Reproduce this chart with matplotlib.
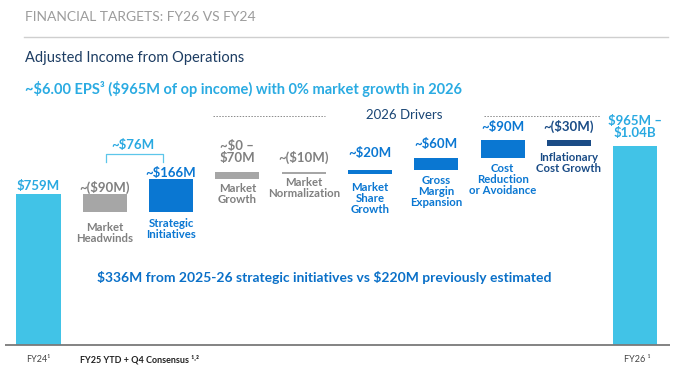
import numpy as np
import matplotlib
matplotlib.use("Agg")
import matplotlib.pyplot as plt

plt.rcParams['font.family'] = ['Lato', 'DejaVu Sans']
plt.rcParams['text.parse_math'] = False

# data ($M)
start_value = 759
steps = [-90, 166, 35, -10, 20, 60, 90, -30]   # market growth drawn at mid of ~$0-70M
step_names = ['Market\nHeadwinds', 'Strategic\nInitiatives', 'Market\nGrowth',
              'Market\nNormalization', 'Market\nShare\nGrowth', 'Gross\nMargin\nExpansion',
              'Cost\nReduction\nor Avoidance', 'Inflationary\nCost Growth']
step_labels = ['~($90M)', '~$166M', '~$0 –\n$70M', '~($10M)', '~$20M', '~$60M',
               '~$90M', '~($30M)']
start_label = '$759M'
end_label = '$965M –\n$1.04B'

LIGHT = '#41C3E7'
GRAY = '#A6A6A6'
BLUE = '#0A77D2'
NAVY = '#1A4C86'
GRAYTXT = '#808080'
step_colors = [GRAY, BLUE, GRAY, GRAY, BLUE, BLUE, BLUE, NAVY]
text_colors = [GRAYTXT, BLUE, GRAYTXT, GRAYTXT, BLUE, BLUE, BLUE, NAVY]
# gap (px) between bar and its value label / name label
val_gap = [0, 0, 8, 8, 11, 8, 7, 7]
name_gap = [10, 6, 4, 3, 8, 5, 5, 6]

W, H = 680, 372
fig = plt.figure(figsize=(W / 100, H / 100), dpi=100)
ax = fig.add_axes([0, 0, 1, 1])
px_x = 66.3          # px per category
px_m = 0.199         # px per $M
x0_px, base_px = 38.5, 345
ax.set_xlim(-x0_px / px_x, (W - x0_px) / px_x)
ax.set_ylim(-(H - base_px) / px_m, base_px / px_m)
ax.axis('off')

def fx(px):
    return px / W

def fy(py):
    return 1 - py / H

cum = np.concatenate([[start_value], start_value + np.cumsum(steps)])
end_value = cum[-1]
bw = 0.665

# totals
ax.bar([0, 9], [start_value, end_value], width=bw, color=LIGHT)
ax.annotate(start_label, (0, start_value), xytext=(0, 2), textcoords='offset pixels',
            ha='center', va='bottom', fontsize=9.5, fontweight='bold', color='#29A9E1')
ax.annotate(end_label, (9, end_value), xytext=(0, 7), textcoords='offset pixels',
            ha='center', va='bottom', fontsize=9.5, fontweight='bold', color='#29A9E1',
            linespacing=1.0)

# steps
for i, s in enumerate(steps):
    x = i + 1
    lo, hi = min(cum[i], cum[i + 1]), max(cum[i], cum[i + 1])
    ax.bar(x, hi - lo, bottom=lo, width=bw, color=step_colors[i])
    ax.annotate(step_labels[i], (x, hi), xytext=(0, val_gap[i]), textcoords='offset pixels',
                ha='center', va='bottom', fontsize=9.5, fontweight='bold',
                color=text_colors[i], linespacing=1.0)
    ax.annotate(step_names[i], (x, lo), xytext=(0, -name_gap[i]), textcoords='offset pixels',
                ha='center', va='top', fontsize=8.2, fontweight='bold',
                color=text_colors[i], linespacing=1.0)

# baseline
ax.plot([-0.5, 9.53], [0, 0], color='#7A7A7A', lw=1.3, solid_capstyle='butt')

# bracket over headwinds + strategic initiatives
bt = (345 - 154) / px_m
bb = (345 - 162) / px_m
ax.plot([1.02, 1.02, 1.88, 1.88], [bb, bt, bt, bb], color='#5CC6EA', lw=0.9)
ax.text(1.43, bt + 3 / px_m, '~$76M', ha='center', va='bottom', fontsize=9.5,
        fontweight='bold', color='#29A9E1')

# header
fig.text(fx(25), fy(17), 'FINANCIAL TARGETS: FY26 VS FY24', fontsize=10,
         color='#9C9C9C', va='center', ha='left')
fig.add_artist(plt.Line2D([fx(24), fx(668)], [fy(37), fy(37)], color='#CFCFCF', lw=1))
fig.text(fx(25), fy(58), 'Adjusted Income from Operations', fontsize=10.5,
         color='#1D3D63', va='center', ha='left')
fig.text(fx(25), fy(89), '~$6.00 EPS³ ($965M of op income) with 0% market growth in 2026',
         fontsize=10.5, fontweight='bold', color='#2AABE2', va='center', ha='left')

# 2026 drivers header
fig.text(fx(404), fy(115), '2026 Drivers', fontsize=9.5, color='#1A4675',
         va='center', ha='center')
for a, b in [(213, 325), (484, 600)]:
    fig.add_artist(plt.Line2D([fx(a), fx(b)], [fy(116), fy(116)], color='#8A8A8A',
                              lw=0.7, ls=(0, (1.5, 1.5))))

fig.text(fx(324), fy(277), '$336M from 2025-26 strategic initiatives vs $220M previously estimated',
         fontsize=10, fontweight='bold', color='#0A70C8', va='center', ha='center')

# x labels
fig.text(fx(38), fy(360), 'FY24¹', fontsize=6.5, color='#444444', va='center', ha='center')
fig.text(fx(80), fy(360), 'FY25 YTD + Q4 Consensus ¹˒²', fontsize=6.5,
         fontweight='bold', color='#222222', va='center', ha='left')
fig.text(fx(637), fy(360), 'FY26 ¹', fontsize=6.5, color='#444444', va='center', ha='center')

fig.savefig('out.png', dpi=100)
